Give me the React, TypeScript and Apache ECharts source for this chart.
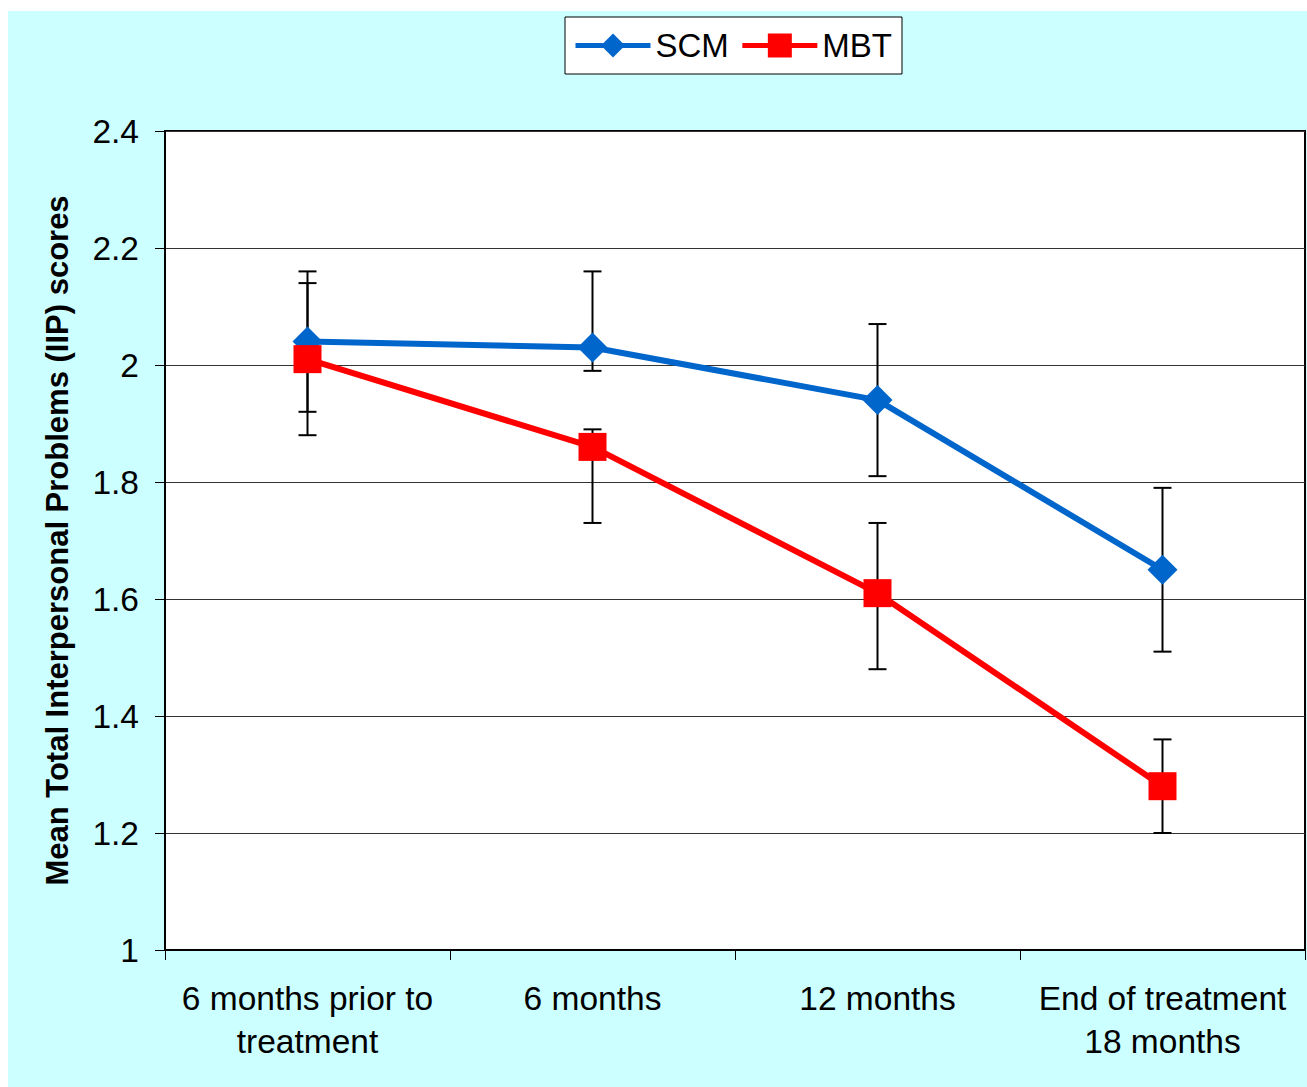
import React, { useEffect, useRef } from "react";
import * as echarts from "echarts";

const categories = ["6 months prior to\ntreatment", "6 months", "12 months", "End of treatment\n18 months"];
const scmValues = [2.04, 2.03, 1.94, 1.65];
const mbtValues = [2.01, 1.86, 1.61, 1.28];
const scmLow = [1.92, 1.99, 1.81, 1.51];
const scmHigh = [2.16, 2.16, 2.07, 1.79];
const mbtLow = [1.88, 1.73, 1.48, 1.2];
const mbtHigh = [2.14, 1.89, 1.73, 1.36];
const yMin = 1;
const yMax = 2.4;
const yStep = 0.2;

const FONT = "'Liberation Sans', Arial, Helvetica, sans-serif";

function errorRender(params: any, api: any) {
  const x = api.value(0);
  const lo = api.coord([x, api.value(1)]);
  const hi = api.coord([x, api.value(2)]);
  const half = 9;
  const style = { stroke: "#000", lineWidth: 2 };
  return {
    type: "group",
    children: [
      { type: "line", shape: { x1: lo[0], y1: lo[1], x2: hi[0], y2: hi[1] }, style },
      { type: "line", shape: { x1: lo[0] - half, y1: lo[1], x2: lo[0] + half, y2: lo[1] }, style },
      { type: "line", shape: { x1: hi[0] - half, y1: hi[1], x2: hi[0] + half, y2: hi[1] }, style },
    ],
  };
}

export default function App() {
  const ref = useRef<HTMLDivElement>(null);
  useEffect(() => {
    if (!ref.current) return;
    const chart = echarts.init(ref.current, null, { renderer: "svg" });
    chart.setOption({
      animation: false,
      backgroundColor: "#CCFFFF",
      textStyle: { fontFamily: FONT },
      legend: {
        data: ["SCM", "MBT"],
        left: 557,
        top: 6,
        backgroundColor: "#fff",
        borderColor: "#000",
        borderWidth: 1,
        padding: [12, 10, 12, 8],
        itemWidth: 75,
        itemHeight: 30,
        itemGap: 11,
        lineStyle: { width: 5 },
        textStyle: { fontSize: 33, color: "#000", fontFamily: FONT },
      },
      grid: {
        left: 157,
        top: 120,
        right: 2,
        bottom: 137,
        show: true,
        backgroundColor: "#fff",
        borderColor: "#000",
        borderWidth: 2,
      },
      xAxis: {
        type: "category",
        data: categories,
        boundaryGap: true,
        axisLine: { lineStyle: { color: "#000", width: 2 } },
        axisTick: { show: true, length: 10, inside: false, lineStyle: { color: "#000", width: 1 } },
        axisLabel: {
          fontSize: 33.5,
          color: "#000",
          margin: 27,
          lineHeight: 43,
          fontFamily: FONT,
          interval: 0,
        },
      },
      yAxis: {
        type: "value",
        min: yMin,
        max: yMax,
        interval: yStep,
        name: "Mean Total Interpersonal Problems (IIP) scores",
        nameLocation: "middle",
        nameGap: 92,
        nameTextStyle: { fontSize: 31, fontWeight: "bold", color: "#000", fontFamily: FONT },
        axisLine: { show: true, lineStyle: { color: "#000", width: 2 } },
        axisTick: { show: true, length: 10, lineStyle: { color: "#000", width: 1 } },
        axisLabel: { fontSize: 33.5, color: "#000", margin: 26, fontFamily: FONT },
        splitLine: { show: true, lineStyle: { color: "#333", width: 1 } },
      },
      series: [
        {
          type: "custom",
          name: "scmErr",
          renderItem: errorRender,
          encode: { x: 0, y: [1, 2] },
          data: categories.map((_, i) => [i, scmLow[i], scmHigh[i]]),
          z: 1,
          silent: true,
        },
        {
          type: "custom",
          name: "mbtErr",
          renderItem: errorRender,
          encode: { x: 0, y: [1, 2] },
          data: categories.map((_, i) => [i, mbtLow[i], mbtHigh[i]]),
          z: 1,
          silent: true,
        },
        {
          type: "line",
          name: "SCM",
          data: scmValues,
          symbol: "diamond",
          symbolSize: 30,
          lineStyle: { color: "#0066CC", width: 6 },
          itemStyle: { color: "#0066CC" },
          z: 3,
        },
        {
          type: "line",
          name: "MBT",
          data: mbtValues,
          symbol: "rect",
          symbolSize: 28,
          lineStyle: { color: "#FF0000", width: 6 },
          itemStyle: { color: "#FF0000" },
          z: 4,
        },
      ],
    });
    return () => chart.dispose();
  }, []);
  return (
    <div
      ref={ref}
      style={{ position: "absolute", left: 8, top: 11, width: 1299, height: 1076 }}
    />
  );
}
